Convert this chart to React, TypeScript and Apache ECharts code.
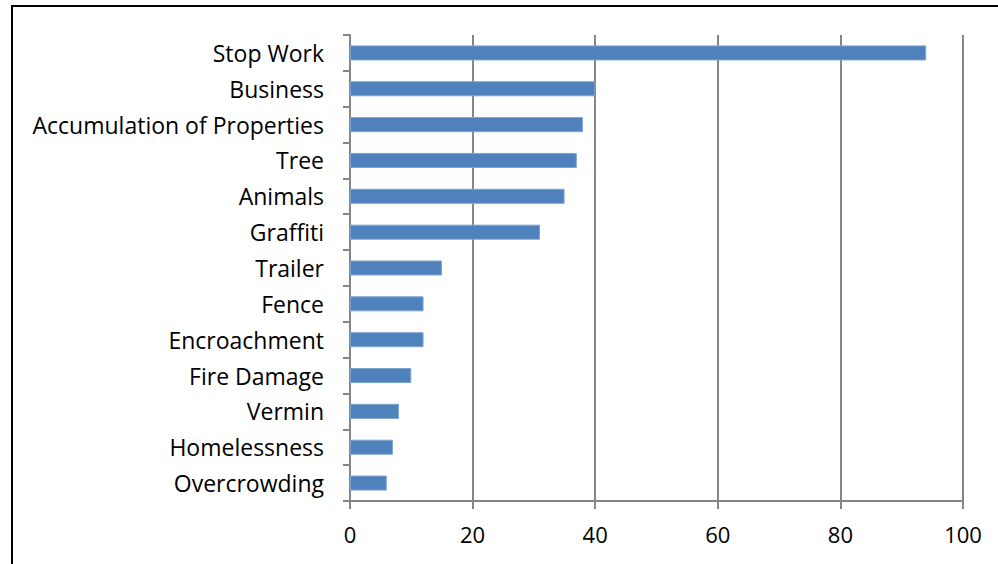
import React, { useEffect, useRef } from "react";
import * as echarts from "echarts";

const categories = [
  "Stop Work",
  "Business",
  "Accumulation of Properties",
  "Tree",
  "Animals",
  "Graffiti",
  "Trailer",
  "Fence",
  "Encroachment",
  "Fire Damage",
  "Vermin",
  "Homelessness",
  "Overcrowding",
];
const values = [94, 40, 38, 37, 35, 31, 15, 12, 12, 10, 8, 7, 6];
const xMin = 0;
const xMax = 100;
const xInterval = 20;

export default function App() {
  const ref = useRef<HTMLDivElement>(null);
  useEffect(() => {
    document.body.style.margin = "0";
    const chart = echarts.init(ref.current!, null, { renderer: "svg" });
    const font = "'Open Sans', sans-serif";
    chart.setOption({
      animation: false,
      backgroundColor: "#ffffff",
      graphic: [
        {
          type: "rect",
          shape: { x: 12, y: 6, width: 1100, height: 700 },
          style: { fill: "none", stroke: "#000", lineWidth: 2 },
          silent: true,
        },
      ],
      grid: { left: 350, right: 35, top: 35, bottom: 63, containLabel: false },
      xAxis: {
        type: "value",
        min: xMin,
        max: xMax,
        interval: xInterval,
        axisLine: { show: true, lineStyle: { color: "#868686", width: 2 } },
        axisTick: { show: true, length: 8, lineStyle: { color: "#868686", width: 2 } },
        splitLine: { show: true, lineStyle: { color: "#868686", width: 2 } },
        axisLabel: { color: "#000", fontSize: 22, fontFamily: font, margin: 22 },
      },
      yAxis: {
        type: "category",
        data: categories,
        inverse: true,
        axisLine: { show: true, lineStyle: { color: "#868686", width: 2 } },
        axisTick: { show: true, length: 7, lineStyle: { color: "#868686", width: 2 } },
        axisLabel: { color: "#000", fontSize: 23, fontFamily: font, margin: 26 },
      },
      series: [
        {
          type: "bar",
          data: values,
          barCategoryGap: "58%",
          itemStyle: { color: "#4F81BD", borderColor: "#7FA3CF", borderWidth: 1 },
        },
      ],
    });
    return () => chart.dispose();
  }, []);
  return (
    <div
      ref={ref}
      style={{ position: "fixed", left: 0, top: 0, width: 998, height: 564, overflow: "hidden" }}
    />
  );
}
